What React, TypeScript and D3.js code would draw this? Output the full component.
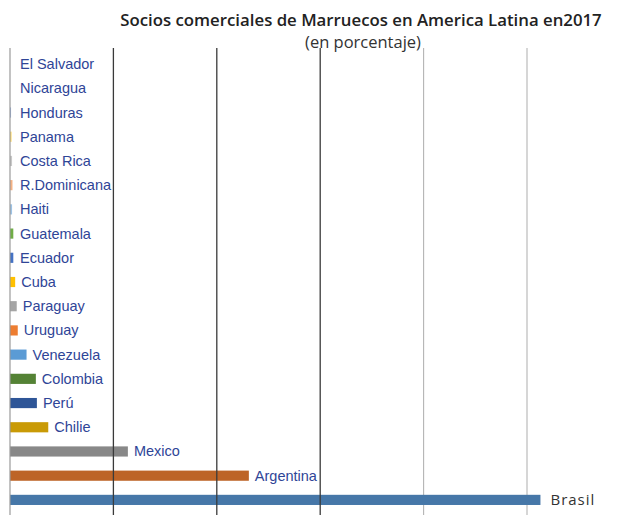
import React from "react";
import * as d3 from "d3";

// Moroccan trade partners in Latin America, 2017 (% share), top row first
const countries = [
  "El Salvador", "Nicaragua", "Honduras", "Panama", "Costa Rica", "R.Dominicana",
  "Haiti", "Guatemala", "Ecuador", "Cuba", "Paraguay", "Uruguay", "Venezuela",
  "Colombia", "Perú", "Chilie", "Mexico", "Argentina", "Brasil",
];
const shares = [
  0, 0, 0.1, 0.15, 0.2, 0.24, 0.2, 0.32, 0.32, 0.5, 0.65, 0.75, 1.6,
  2.5, 2.6, 3.7, 11.4, 23.1, 51.3,
];
const barColors = [
  "#8faadc", "#8faadc", "#8faadc", "#ffd966", "#c9c9c9", "#f4b183",
  "#9dc3e6", "#70ad47", "#4472c4", "#ffc000", "#a5a5a5", "#ed7d31", "#5b9bd5",
  "#548235", "#2e5597", "#c99a06", "#888888", "#bd6427", "#4677a8",
];
const gridTicks = [10, 20, 30, 40, 50];

const W = 626;
const H = 515;

export default function App() {
  const x = d3.scaleLinear().domain([0, 50]).range([10, 527]);
  const y = d3.scaleBand<string>().domain(countries).range([52, 512]).paddingInner(0.58).paddingOuter(0.29);
  const bh = y.bandwidth();

  const gridLine = (t: number, dark: boolean) => (
    <line
      key={"g" + t}
      x1={x(t)}
      x2={x(t)}
      y1={48}
      y2={H}
      stroke={dark ? "#3a3a3a" : "#b4b4b4"}
      strokeWidth={dark ? 1.3 : 1.1}
    />
  );

  return (
    <div style={{ position: "absolute", left: 0, top: 0 }}>
      <svg width={W} height={H} style={{ display: "block", background: "#fff" }}>
        <text x={361} y={26} textAnchor="middle" fontFamily="Open Sans" fontWeight={600} fontSize={16.8} fill="#222">
          Socios comerciales de Marruecos en America  Latina en2017
        </text>
        <text x={363} y={48} textAnchor="middle" fontFamily="Open Sans" fontSize={16.5} fill="#333">
          (en porcentaje)
        </text>

        {gridTicks.filter((t) => t > 30).map((t) => gridLine(t, false))}

        {countries.map((c, i) => (
          <rect
            key={c}
            x={x(0)}
            y={(y(c) ?? 0)}
            width={Math.max(0, x(shares[i]) - x(0))}
            height={bh}
            fill={barColors[i]}
          />
        ))}

        {gridTicks.filter((t) => t <= 30).map((t) => gridLine(t, true))}
        <line x1={x(0)} x2={x(0)} y1={48} y2={H} stroke="#9a9a9a" strokeWidth={1.2} />

        {countries.map((c, i) => {
          const isBrasil = c === "Brasil";
          return (
            <text
              key={"l" + c}
              x={Math.max(x(shares[i]) + (isBrasil ? 10 : 6), 20)}
              y={(y(c) ?? 0) + bh / 2 + 5}
              fontFamily={isBrasil ? "Open Sans" : "Liberation Sans"}
              fontSize={isBrasil ? 15 : 14.5}
              letterSpacing={isBrasil ? 1 : 0}
              fill={isBrasil ? "#333" : "#2f4597"}
            >
              {c}
            </text>
          );
        })}
      </svg>
    </div>
  );
}
